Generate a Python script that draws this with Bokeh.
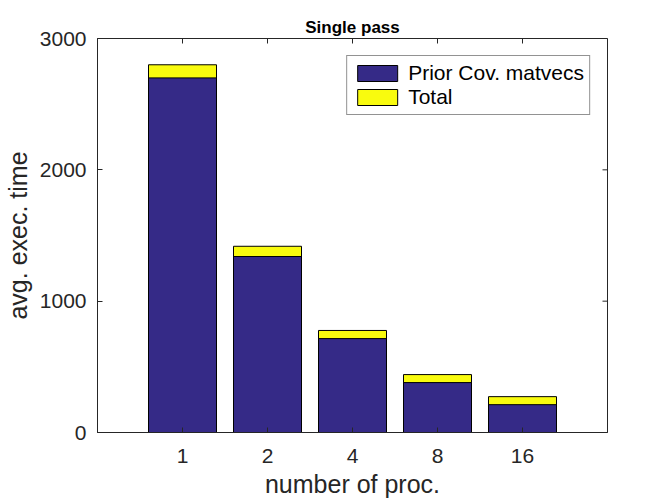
import math
from bokeh.plotting import figure
from bokeh.models import (ColumnDataSource, Range1d, FixedTicker,
                          Legend, LegendItem)
from bokeh.embed import file_html
from bokeh.resources import INLINE

# ---- data ----
procs = ["1", "2", "4", "8", "16"]
positions = [1, 2, 3, 4, 5]
prior_cov = [2700, 1340, 715, 380, 212]
total = [2800, 1418, 777, 441, 273]
y_ticks = [0, 1000, 2000, 3000]

BLUE = "#352a87"
YELLOW = "#f9fb0e"
AX = "#262626"
FONT = "Liberation Sans"
X_END = 6
Y_END = 3000

src = ColumnDataSource(dict(x=positions, prior=prior_cov, total=total))

p = figure(frame_width=510, frame_height=394,
           min_border_left=97, min_border_right=65,
           min_border_top=38, min_border_bottom=72,
           x_range=Range1d(0, X_END), y_range=Range1d(0, Y_END),
           output_backend="svg", toolbar_location=None,
           title="Single pass",
           x_axis_label="number of proc.", y_axis_label="avg. exec. time")

p.title.align = "center"
p.title.text_font = FONT
p.title.text_font_size = "17px"
p.title.text_font_style = "bold"
p.title.text_color = "#000000"
p.title.standoff = 4

yel = p.vbar(x="x", top="total", width=0.8, source=src, fill_color=YELLOW,
             line_color="#000000", line_width=1)
blu = p.vbar(x="x", top="prior", width=0.8, source=src, fill_color=BLUE,
             line_color="#000000", line_width=1)

# inward ticks on the top and right edges (box on)
p.scatter(x=positions, y=[Y_END] * len(positions), marker="dash", size=10,
          angle=math.pi / 2, line_color=AX, line_width=1)
p.scatter(x=[X_END] * len(y_ticks), y=y_ticks, marker="dash", size=10,
          line_color=AX, line_width=1)

p.xgrid.visible = False
p.ygrid.visible = False
p.outline_line_color = AX
p.outline_line_width = 1

for ax in (p.xaxis[0], p.yaxis[0]):
    ax.axis_line_color = AX
    ax.major_tick_line_color = AX
    ax.major_tick_in = 5
    ax.major_tick_out = 0
    ax.minor_tick_line_color = None
    ax.major_label_text_color = AX
    ax.major_label_text_font = FONT
    ax.major_label_text_font_size = "21px"
    ax.axis_label_text_font = FONT
    ax.axis_label_text_font_size = "25px"
    ax.axis_label_text_font_style = "normal"
    ax.axis_label_text_color = AX

p.xaxis.ticker = FixedTicker(ticks=positions)
p.xaxis.major_label_overrides = {pos: lab for pos, lab in zip(positions, procs)}
p.yaxis.ticker = FixedTicker(ticks=y_ticks)
p.xaxis.major_label_standoff = 16
p.xaxis.axis_label_standoff = 4
p.yaxis.major_label_standoff = 11
p.yaxis.axis_label_standoff = 5

legend = Legend(items=[LegendItem(label="Prior Cov. matvecs", renderers=[blu]),
                       LegendItem(label="Total", renderers=[yel])],
                location="top_right", margin=17, padding=5, spacing=0,
                glyph_width=50, glyph_height=20, label_height=20,
                label_standoff=6, label_text_font=FONT,
                label_text_font_size="21px", label_text_color="#000000",
                border_line_color=AX, border_line_width=1,
                background_fill_color="white", background_fill_alpha=1)
p.add_layout(legend, "center")

open("out.html", "w").write(file_html(p, INLINE))
